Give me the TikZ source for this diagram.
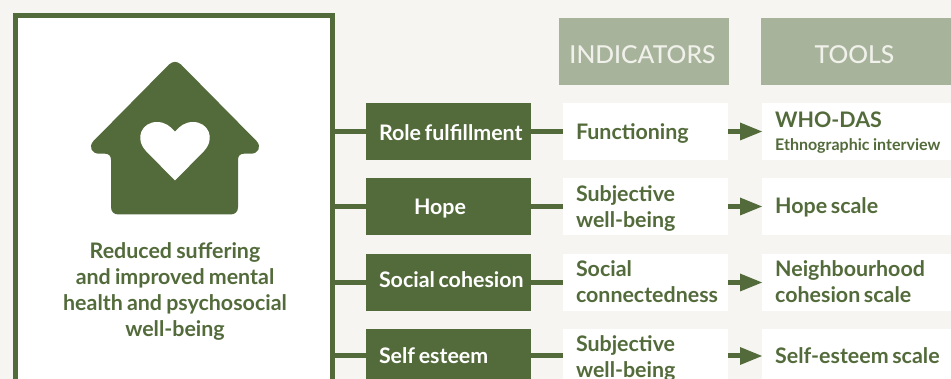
\documentclass[tikz,border=0pt]{standalone}
\usepackage{fontspec}
\usepackage{xcolor}
\usetikzlibrary{arrows.meta}
\setmainfont{Lato}[BoldFont=* Bold, WordSpace=0.8]
\newfontfamily\headfont{Lato Medium}
\definecolor{leafgreen}{HTML}{536B3B}
\definecolor{headgreen}{HTML}{A8B39B}
\definecolor{headtext}{HTML}{F0F1EA}
\definecolor{paper}{HTML}{F6F5F2}
\newcommand{\rowa}{131.5}
\newcommand{\rowb}{206.5}
\newcommand{\rowc}{282.5}
\newcommand{\rowd}{356}
\tikzset{
    sink/.style={execute at begin node={\rule{0pt}{#1}}},
    lift/.style={execute at end node={\rule[-#1]{0pt}{0pt}}},
    labelbox/.style={minimum height=57pt, inner ysep=0pt, align=left, font=\fontsize{21.4}{26}\selectfont\bfseries,
        execute at begin node={\spaceskip=0.17em\relax}},
    outcomebox/.style={labelbox, fill=leafgreen, text=white, text width=152pt, inner xsep=6.5pt,
        execute at begin node={\hspace*{6.5pt}}},
    indicatorbox/.style={labelbox, fill=white, text=leafgreen, text width=139pt, inner xsep=13pt},
    toolbox/.style={labelbox, fill=white, text=leafgreen, text width=200pt, inner xsep=13pt},
    headbox/.style={fill=headgreen, text=headtext, minimum height=67pt, inner sep=0pt, font=\fontsize{24.7}{26}\headfont},
    link/.style={draw=leafgreen, line width=5pt},
    pointer/.style={link, -{Triangle[length=22pt, width=18pt, line width=0pt]}},
}

\begin{document}
\begin{tikzpicture}[x=1pt, y=-1pt]
        \useasboundingbox (0, 0) rectangle (951, 379);
        \clip (0, 0) rectangle (951, 379);
        \fill[paper] (0, 0) rectangle (951, 379);

        % goal panel
        \node [draw=leafgreen, line width=5pt, fill=white, minimum width=317pt, minimum height=490pt, inner sep=0pt] (goal) at (174, 260.5) {};
        \node [text=leafgreen, align=center, inner sep=0pt, font=\fontsize{21.4}{26}\selectfont\bfseries] (goaltext) at (175, 291)
            {Reduced suffering\\and improved mental\\health and psychosocial\\well-being};

        % house
        \fill[leafgreen] (169, 64.5) .. controls (173, 61) and (177, 61) .. (181, 64.5) -- (256.5, 141)
            .. controls (262, 147) and (258, 153.7) .. (251, 153.7) -- (244, 153.7)
            .. controls (240, 153.7) and (238, 156) .. (238, 160) -- (238, 207)
            .. controls (238, 212) and (235, 214.5) .. (230, 214.5) -- (119, 214.5)
            .. controls (114, 214.5) and (111, 212) .. (111, 207) -- (111, 160)
            .. controls (111, 156) and (109, 153.7) .. (105, 153.7) -- (99, 153.7)
            .. controls (92, 153.7) and (88, 147) .. (93.5, 141) -- cycle;
        % heart
        \fill[white] (175, 180.5) -- (146, 151) .. controls (134, 138) and (142, 122) .. (157, 122)
            .. controls (165, 122) and (170, 126) .. (175, 131.7)
            .. controls (180, 126) and (185, 122) .. (193, 122)
            .. controls (208, 122) and (216, 138) .. (204, 151) -- cycle;

        % headers
        \node [headbox, minimum width=170pt, sink=24pt] (indhead) at (644, 51.5) {INDICATORS\hspace*{3pt}};
        \node [headbox, minimum width=190pt, sink=24pt] (toolhead) at (856, 51.5) {TOOLS\hspace*{3pt}};

        % outcomes
        \node [outcomebox, sink=19pt] (role) at (448.5, \rowa) {Role fulfillment};
        \node [outcomebox, sink=20pt] (hope) at (448.5, \rowb) {\hspace*{35pt}Hope};
        \node [outcomebox, lift=5pt] (cohesion) at (448.5, \rowc) {Social cohesion};
        \node [outcomebox, minimum height=54pt] (esteem) at (448.5, \rowd) {Self esteem};

        % indicators
        \node [indicatorbox, sink=20pt] (functioning) at (645.5, \rowa) {Functioning};
        \node [indicatorbox, sink=20pt] (wellbeing) at (645.5, \rowb) {Subjective\\well-being};
        \node [indicatorbox, lift=2pt] (connected) at (645.5, \rowc) {Social\\connectedness};
        \node [indicatorbox, minimum height=54pt, sink=20pt] (wellbeingb) at (645.5, \rowd) {Subjective\\well-being};

        % tools
        \node [toolbox, anchor=west, sink=18pt] (whodas) at (762, \rowa) {WHO-DAS\\[-3pt]{\fontsize{16}{20}\selectfont Ethnographic interview}};
        \node [toolbox, anchor=west, sink=18pt] (hopescale) at (762, \rowb) {Hope scale};
        \node [toolbox, anchor=west, lift=2pt] (neighbour) at (762, \rowc) {Neighbourhood\\cohesion scale};
        \node [toolbox, anchor=west, minimum height=54pt] (selfscale) at (762, \rowd) {Self-esteem scale};

        % links
        \draw[link] (goal.east |- role.west) -- (role.west);
        \draw[link] (goal.east |- hope.west) -- (hope.west);
        \draw[link] (goal.east |- cohesion.west) -- (cohesion.west);
        \draw[link] (goal.east |- esteem.west) -- (esteem.west);

        \draw[link] (role.east) -- (functioning.west);
        \draw[link] (hope.east) -- (wellbeing.west);
        \draw[link] (cohesion.east) -- (connected.west);
        \draw[link] (esteem.east) -- (wellbeingb.west);

        % arrows
        \draw[pointer] (functioning.east) -- (whodas.west);
        \draw[pointer] (wellbeing.east) -- (hopescale.west);
        \draw[pointer] (connected.east) -- (neighbour.west);
        \draw[pointer] (wellbeingb.east) -- (selfscale.west);
    \end{tikzpicture}
\end{document}
